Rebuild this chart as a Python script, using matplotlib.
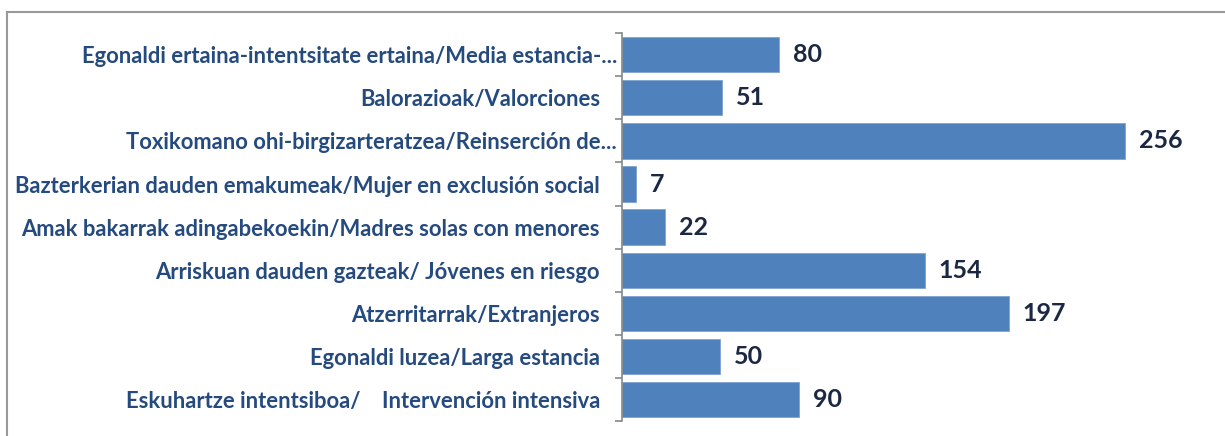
import matplotlib.pyplot as plt
from matplotlib.lines import Line2D
from matplotlib.transforms import ScaledTranslation

categories = [
    'Egonaldi ertaina-intentsitate ertaina/Media estancia-...',
    'Balorazioak/Valorciones',
    'Toxikomano ohi-birgizarteratzea/Reinserción de...',
    'Bazterkerian dauden emakumeak/Mujer en exclusión social',
    'Amak bakarrak adingabekoekin/Madres solas con menores',
    'Arriskuan dauden gazteak/ Jóvenes en riesgo',
    'Atzerritarrak/Extranjeros',
    'Egonaldi luzea/Larga estancia',
    'Eskuhartze intentsiboa/    Intervención intensiva',
]
values = [80, 51, 256, 7, 22, 154, 197, 50, 90]

bar_color = '#4F81BD'
label_color = '#254A7E'
value_color = '#1C2841'

fig = plt.figure(figsize=(12.25, 4.36), dpi=100)
ax = fig.add_axes([0.5078, 0.034, 0.481, 0.890])

pos = list(range(len(values)))
ax.barh(pos, values, height=0.82, color=bar_color, edgecolor='#7FA3D0', linewidth=0.6)
ax.set_ylim(len(values) - 0.5, -0.5)
ax.set_xlim(0, 300)

ax.set_yticks(pos)
ax.set_yticklabels(categories, fontfamily='Lato', fontweight='bold', fontsize=15.8, color=label_color)
ax.tick_params(axis='y', which='major', length=0, pad=3.6)
ax.set_yticks([p - 0.5 for p in pos] + [len(values) - 0.5], minor=True)
ax.tick_params(axis='y', which='minor', length=5, color='#888888', width=1.2)
ax.set_xticks([])

# labels not cut by the category axis sit a bit further from the spine
for lbl in ax.get_yticklabels():
    if not lbl.get_text().endswith('...'):
        lbl.set_transform(lbl.get_transform() + ScaledTranslation(-0.17, 0, fig.dpi_scale_trans))

for side in ['top', 'right', 'bottom']:
    ax.spines[side].set_visible(False)
ax.spines['left'].set_color('#888888')
ax.spines['left'].set_linewidth(1.2)

for p, v in zip(pos, values):
    ax.annotate(str(v), (v, p), xytext=(10, 0), textcoords='offset points',
                va='center', ha='left', fontfamily='Lato', fontweight='bold',
                fontsize=18, color=value_color)

# outer chart frame
fig.add_artist(Line2D([0.0057, 0.0057], [0, 0.973], color='#999999', linewidth=1.5, transform=fig.transFigure))
fig.add_artist(Line2D([0.0057, 1.0], [0.973, 0.973], color='#999999', linewidth=1.5, transform=fig.transFigure))

plt.savefig('out.png', dpi=100)
